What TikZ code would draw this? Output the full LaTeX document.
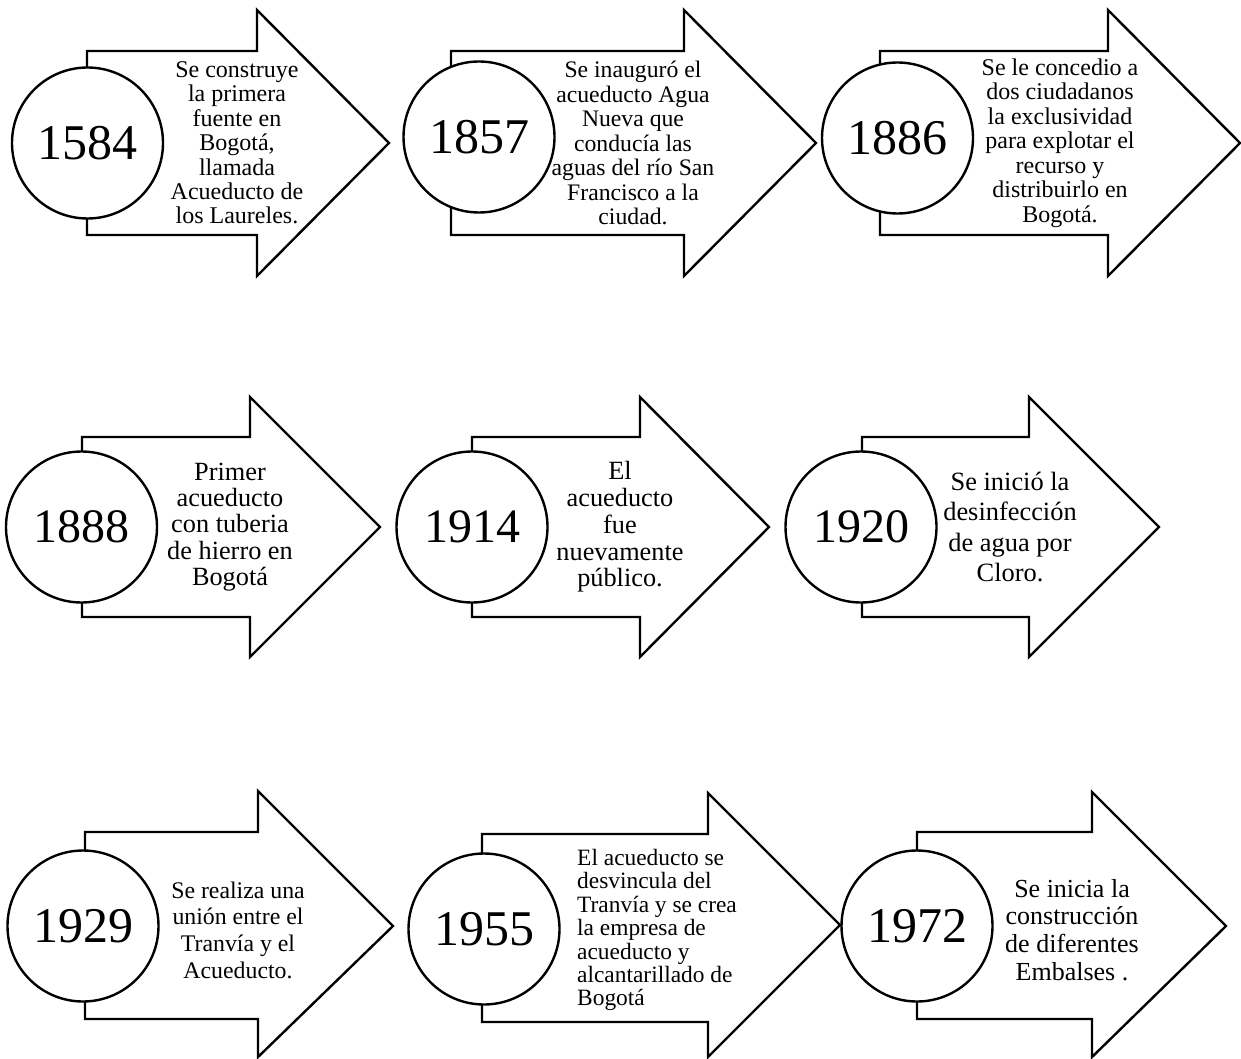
\documentclass[tikz,border=0pt]{standalone}
\usepackage{fontspec}
\setmainfont{Liberation Serif}
\begin{document}
\begin{tikzpicture}[x=1pt,y=-1pt,
  arrowbody/.style={draw, line width=2.4pt, fill=white, line join=miter},
  yearcirc/.style={circle, draw, line width=2.4pt, fill=white, inner sep=0pt, minimum size=151pt, font=\fontsize{50}{50}\selectfont},
  yearcircb/.style={yearcirc, font=\fontsize{48}{48}\selectfont},
  desc/.style={align=center, inner sep=0pt}
]
\useasboundingbox (0,0) rectangle (1241,1059);

% ---------- Row 1 ----------
\draw[arrowbody] (87,51) -- (257,51) -- (257,10) -- (389,143) -- (257,276) -- (257,235) -- (87,235) -- cycle;
\node[yearcirc] (c1584) at (87.5,143) {1584};
\node[desc, font=\fontsize{24}{24.4}\selectfont] (t1584) at (237,143)
  {Se construye\\la primera\\fuente en\\Bogotá,\\llamada\\Acueducto de\\los Laureles.};

\draw[arrowbody] (451,51) -- (684,51) -- (684,10) -- (816,143) -- (684,276) -- (684,235) -- (451,235) -- cycle;
\node[yearcirc] (c1857) at (479,137) {1857};
\node[desc, font=\fontsize{23.7}{24.5}\selectfont] (t1857) at (633,143)
  {Se inauguró el\\acueducto Agua\\Nueva que\\conducía las\\aguas del río San\\Francisco a la\\ciudad.};

\draw[arrowbody] (880,51) -- (1108,51) -- (1108,10) -- (1240,143) -- (1108,276) -- (1108,235) -- (880,235) -- cycle;
\node[yearcirc] (c1886) at (897.5,138) {1886};
\node[desc, font=\fontsize{24}{24.5}\selectfont] (t1886) at (1060,143)
  {Se le concedio a\\dos ciudadanos\\la exclusividad\\para explotar el\\recurso y\\distribuirlo en\\Bogotá.};

% ---------- Row 2 ----------
\draw[arrowbody] (82,437) -- (250,437) -- (250,397) -- (380,527) -- (250,657) -- (250,617) -- (82,617) -- cycle;
\node[yearcircb] (c1888) at (81.5,527) {1888};
\node[desc, font=\fontsize{26.3}{26.3}\selectfont] (t1888) at (230,527)
  {Primer\\acueducto\\con tuberia\\de hierro en\\Bogotá};

\draw[arrowbody] (472,437) -- (640,437) -- (640,397) -- (769,527) -- (640,657) -- (640,617) -- (472,617) -- cycle;
\node[yearcircb] (c1914) at (472,527) {1914};
\node[desc, font=\fontsize{26.3}{26.7}\selectfont] (t1914) at (620,527)
  {El\\acueducto\\fue\\nuevamente\\público.};

\draw[arrowbody] (862,437) -- (1029,437) -- (1029,397) -- (1159,527) -- (1029,657) -- (1029,617) -- (862,617) -- cycle;
\node[yearcircb] (c1920) at (861,527) {1920};
\node[desc, font=\fontsize{26.4}{30.5}\selectfont] (t1920) at (1010,527)
  {Se inició la\\desinfección\\de agua por\\Cloro.};

% ---------- Row 3 ----------
\draw[arrowbody] (85,832) -- (258,832) -- (258,791) -- (393,926) -- (258,1057) -- (258,1019) -- (85,1019) -- cycle;
\node[yearcirc] (c1929) at (83,926) {1929};
\node[desc, font=\fontsize{23.8}{26.7}\selectfont] (t1929) at (238,930)
  {Se realiza una\\unión entre el\\Tranvía y el\\Acueducto.};

\draw[arrowbody] (482,834) -- (708,834) -- (708,793) -- (840,925) -- (708,1057) -- (708,1022) -- (482,1022) -- cycle;
\node[yearcirc] (c1955) at (484,929) {1955};
\node[align=left, inner sep=0pt, anchor=west, font=\fontsize{23.4}{23.4}\selectfont] (t1955) at (577,930)
  {El acueducto se\\desvincula del\\Tranvía y se crea\\la empresa de\\acueducto y\\alcantarillado de\\Bogotá};

\draw[arrowbody] (917,832) -- (1092,832) -- (1092,792) -- (1226,926) -- (1092,1057) -- (1092,1019) -- (917,1019) -- cycle;
\node[yearcirc] (c1972) at (917,926) {1972};
\node[desc, font=\fontsize{26}{27.7}\selectfont] (t1972) at (1072,930)
  {Se inicia la\\construcción\\de diferentes\\Embalses .};
\end{tikzpicture}
\end{document}
